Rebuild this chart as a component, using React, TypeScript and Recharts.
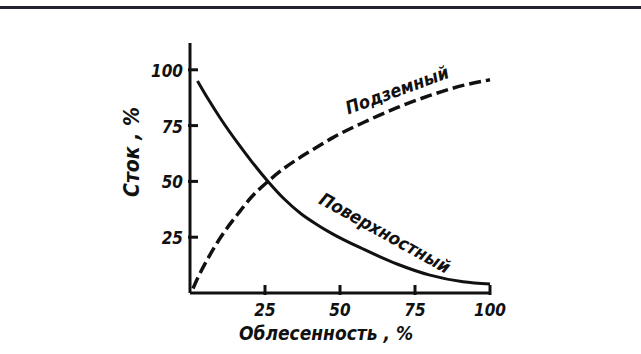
import { LineChart, Line, XAxis, YAxis, Label, ReferenceDot } from "recharts";

// Облесенность, % (x) and runoff shares, % (y)
const forestCover = [1, 2.5, 6, 10.5, 16, 20.5, 26, 31.5, 37, 42.5, 47.5, 58, 69, 80, 91, 100];
const surfaceRunoff = [null, 95, 87, 77.5, 67, 59, 50, 42, 35.5, 30.5, 26.5, 19.5, 13, 8, 5, 4];
const groundRunoff = [2, 6.5, 15.5, 25.5, 35.5, 43, 50, 56, 61, 65.5, 69.5, 76.5, 83, 88.5, 93, 95.5];
const xTicks = [25, 50, 75, 100];
const yTicks = [25, 50, 75, 100];

const data = forestCover.map((x, i) => ({
  x,
  surface: surfaceRunoff[i],
  ground: groundRunoff[i],
}));

const font = "'DejaVu Sans Condensed', sans-serif";
const ink = "#111";

function XTick({ x, y, payload }: any) {
  return (
    <g>
      <line x1={x} x2={x} y1={y} y2={y - 10} stroke={ink} strokeWidth={3} />
      <text x={x} y={y + 21} textAnchor="middle" fontFamily={font} fontWeight="bold" fontStyle="italic" fontSize={17} fill={ink}>
        {payload.value}
      </text>
    </g>
  );
}

function YTick({ x, y, payload }: any) {
  return (
    <g>
      <line x1={x} x2={x + 10} y1={y} y2={y} stroke={ink} strokeWidth={3} />
      <text x={x - 5} y={y + 7} textAnchor="end" fontFamily={font} fontWeight="bold" fontStyle="italic" fontSize={17} fill={ink}>
        {payload.value}
      </text>
    </g>
  );
}

function curveLabel(text: string, angle: number) {
  return ({ viewBox }: any) => {
    const cx = viewBox.x + (viewBox.width || 0) / 2;
    const cy = viewBox.y + (viewBox.height || 0) / 2;
    return (
      <text
        x={cx}
        y={cy}
        textAnchor="middle"
        dominantBaseline="central"
        transform={`rotate(${angle} ${cx} ${cy})`}
        fontFamily={font}
        fontWeight="bold"
        fontStyle="italic"
        fontSize={18}
        fill={ink}
      >
        {text}
      </text>
    );
  };
}

export default function App() {
  return (
    <div style={{ position: "absolute", left: 0, top: 0, width: 641, height: 354, background: "#fff" }}>
      <div style={{ position: "absolute", left: 0, top: 6, width: 641, height: 3, background: "#23232f" }} />
      <LineChart width={641} height={354} data={data} margin={{ top: 43, right: 151, bottom: 31, left: 150 }}>
        <XAxis
          dataKey="x"
          type="number"
          domain={[0, 100]}
          ticks={xTicks}
          tick={<XTick />}
          tickLine={false}
          tickSize={0}
          axisLine={{ stroke: ink, strokeWidth: 3 }}
          height={30}
        >
          <Label
            content={({ viewBox }: any) => (
              <text
                x={viewBox.x + viewBox.width / 2 - 14}
                y={viewBox.y + 47}
                textAnchor="middle"
                fontFamily={font}
                fontWeight="bold"
                fontStyle="italic"
                fontSize={19}
                fill={ink}
              >
                Облесенность , %
              </text>
            )}
          />
        </XAxis>
        <YAxis
          type="number"
          domain={[0, 112]}
          ticks={yTicks}
          tick={<YTick />}
          tickLine={false}
          tickSize={0}
          axisLine={{ stroke: ink, strokeWidth: 3 }}
          width={40}
        >
          <Label
            content={({ viewBox }: any) => {
              const cx = viewBox.x - 18;
              const cy = 152;
              return (
                <text
                  x={cx}
                  y={cy}
                  textAnchor="middle"
                  dominantBaseline="central"
                  transform={`rotate(-90 ${cx} ${cy})`}
                  fontFamily={font}
                  fontWeight="bold"
                  fontStyle="italic"
                  fontSize={21}
                  fill={ink}
                >
                  Сток , %
                </text>
              );
            }}
          />
        </YAxis>
        <Line
          dataKey="surface"
          type="monotone"
          stroke={ink}
          strokeWidth={3}
          dot={false}
          connectNulls
          isAnimationActive={false}
        />
        <Line
          dataKey="ground"
          type="monotone"
          stroke={ink}
          strokeWidth={3.5}
          strokeDasharray="12 5"
          dot={false}
          isAnimationActive={false}
        />
        <ReferenceDot x={69} y={91} r={0} fill="none" stroke="none" label={curveLabel("Подземный", -20)} />
        <ReferenceDot x={65} y={27} r={0} fill="none" stroke="none" label={curveLabel("Поверхностный", 29)} />
      </LineChart>
    </div>
  );
}
